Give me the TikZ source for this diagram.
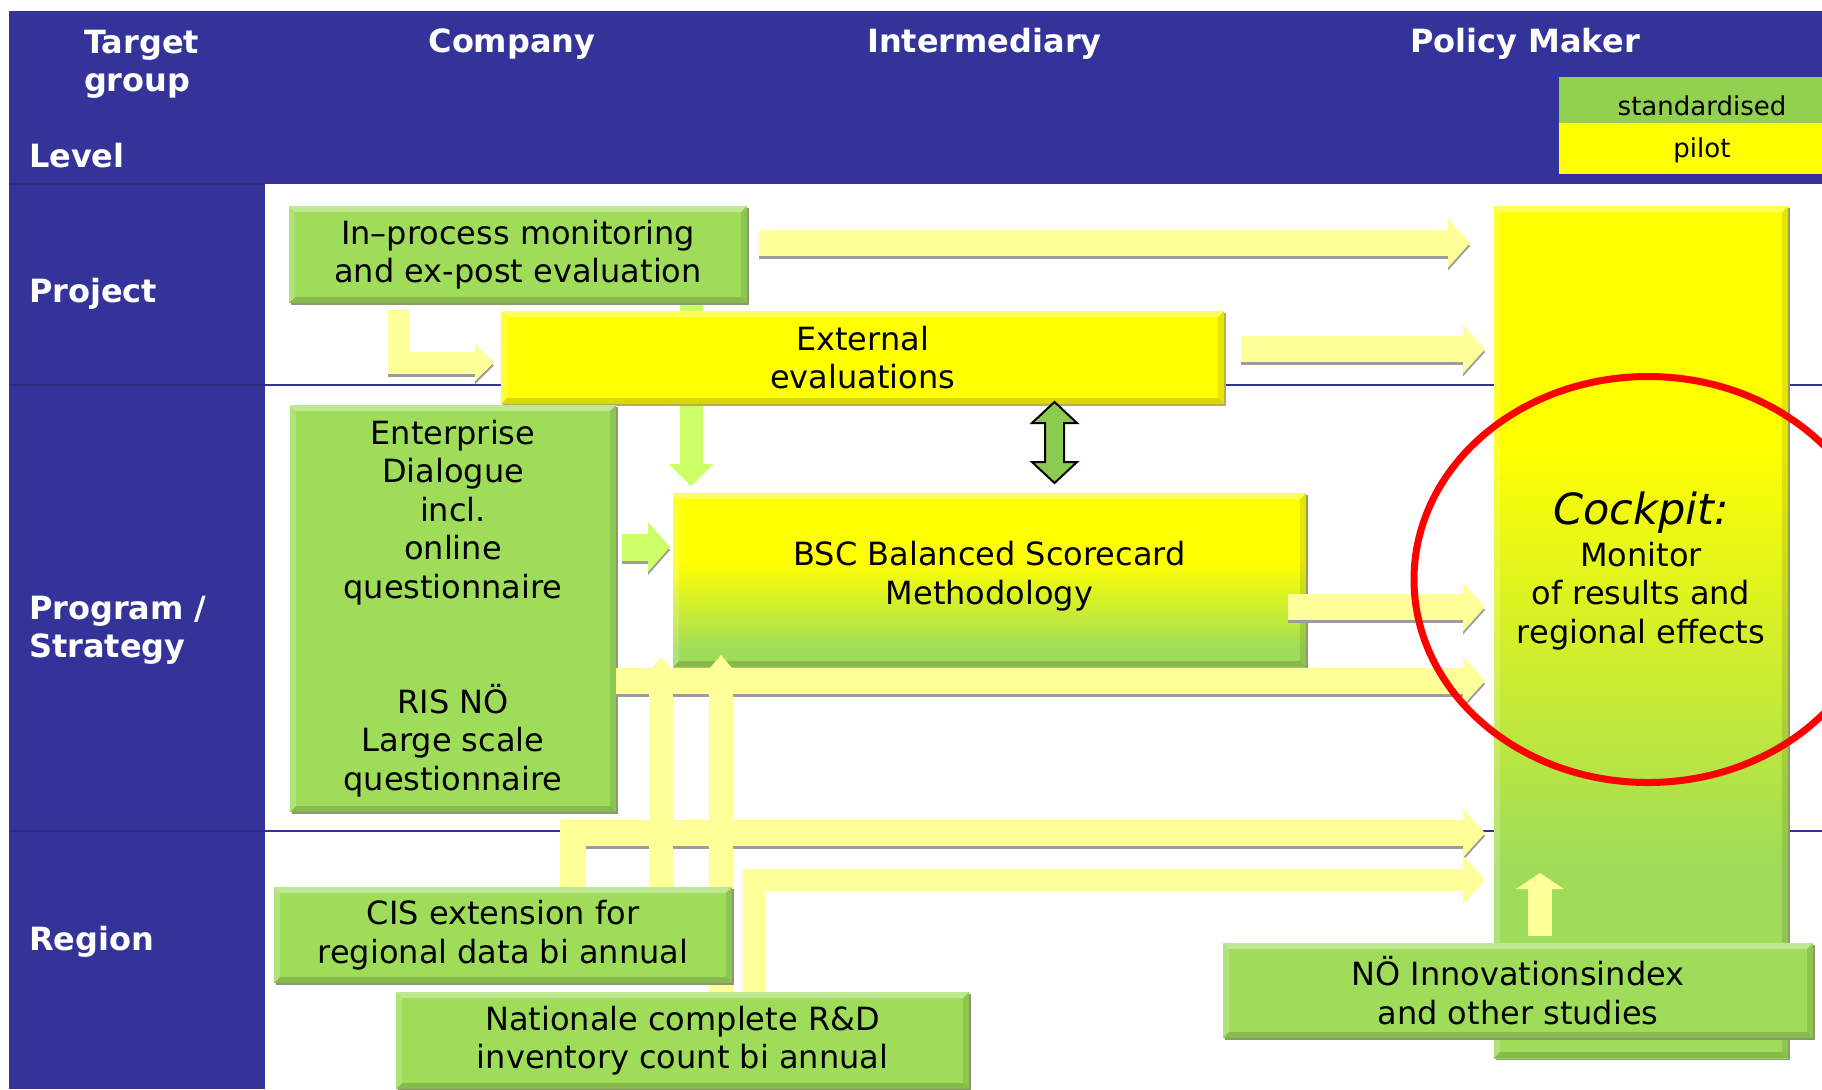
\documentclass[tikz,border=0pt]{standalone}
\usepackage{fontspec}
\setmainfont{DejaVu Sans}
\usetikzlibrary{arrows.meta,shadows,calc}
\definecolor{hblue}{HTML}{333399}
\definecolor{gfill}{HTML}{9EDC5A}
\definecolor{lgreen}{HTML}{92D050}
\definecolor{yfill}{HTML}{FFFF00}
\definecolor{ayellow}{HTML}{FFFF99}
\definecolor{agreen}{HTML}{CCFF66}
\definecolor{dblgreen}{HTML}{8DCB50}
\definecolor{gshadow}{HTML}{8A9A72}
\definecolor{yshadowc}{HTML}{B8B44A}
\definecolor{ashad}{HTML}{9C9C9C}
\pgfdeclareverticalshading{bscsh}{100bp}{color(0bp)=(gfill); color(30bp)=(gfill); color(55bp)=(yfill); color(100bp)=(yfill)}
\pgfdeclareverticalshading{cocksh}{100bp}{color(0bp)=(gfill); color(36bp)=(gfill); color(61bp)=(yfill); color(100bp)=(yfill)}
\newcommand\bxfont{\fontsize{16}{19.2}\selectfont}
\newcommand\hdfont{\fontsize{16}{19.2}\selectfont\bfseries}
\newcommand\lgfont{\fontsize{13}{15.6}\selectfont}
\tikzset{
  bevel/.style={path picture={
    \fill[white,opacity=.35] (path picture bounding box.north west) -- (path picture bounding box.north east) -- ([shift={(-3pt,-3pt)}]path picture bounding box.north east) -- ([shift={(3pt,-3pt)}]path picture bounding box.north west) -- cycle;
    \fill[white,opacity=.2] (path picture bounding box.north west) -- ([shift={(3pt,-3pt)}]path picture bounding box.north west) -- ([shift={(3pt,3pt)}]path picture bounding box.south west) -- (path picture bounding box.south west) -- cycle;
    \fill[black,opacity=.15] (path picture bounding box.south west) -- ([shift={(3pt,3pt)}]path picture bounding box.south west) -- ([shift={(-3pt,3pt)}]path picture bounding box.south east) -- (path picture bounding box.south east) -- cycle;
    \fill[black,opacity=.1] (path picture bounding box.north east) -- ([shift={(-3pt,-3pt)}]path picture bounding box.north east) -- ([shift={(-3pt,3pt)}]path picture bounding box.south east) -- (path picture bounding box.south east) -- cycle;
  }},
  txt/.style={font=\bxfont, align=center, inner sep=0pt, outer sep=0pt},
  gbox/.style={txt, fill=gfill, bevel, drop shadow={opacity=1, fill=gshadow, shadow xshift=1.2pt, shadow yshift=-1.2pt}},
  ybox/.style={txt, fill=yfill, bevel, drop shadow={opacity=1, fill=yshadowc, shadow xshift=1.2pt, shadow yshift=-1.2pt}},
  shbox/.style={txt, shade, bevel, drop shadow={opacity=1, fill=gshadow, shadow xshift=1.2pt, shadow yshift=-1.2pt}},
  hdr/.style={text=white, font=\hdfont, inner sep=0pt, outer sep=0pt},
  lgcell/.style={inner sep=0pt, outer sep=0pt, minimum width=143pt},
  lgtext/.style={font=\lgfont, inner sep=0pt, outer sep=0pt, anchor=base},
  yarr/.style={draw=ayellow, line width=13pt, line join=miter, -{Triangle[width=24.5pt,length=11pt,line width=0pt]}},
  garr/.style={draw=agreen, line width=13pt, line join=miter, -{Triangle[width=24.5pt,length=11pt,line width=0pt]}},
  shad/.style={draw=ashad},
}
\begin{document}
\begin{tikzpicture}[x=0.5pt,y=-0.5pt]
\useasboundingbox (0,0) rectangle (1822,1089);
\fill[white] (0,0) rectangle (1822,1089);
% header band and level column
\fill[hblue] (9,11) rectangle (1822,184);
\fill[hblue] (9,184) rectangle (265,1089);
\draw[hblue!85!black, line width=0.6pt] (9,184) -- (265,184) (9,385) -- (265,385) (9,831) -- (265,831);
\draw[hblue, line width=1.2pt] (265,385) -- (1822,385) (265,831) -- (1822,831);
% header texts
\node[hdr, anchor=north west, align=left] (tg) at (84,30) {Target\\group};
\node[hdr, anchor=base] (hcomp) at (512,52) {Company};
\node[hdr, anchor=base] (hinter) at (984.5,52) {Intermediary};
\node[hdr, anchor=base] (hpol) at (1525,52) {Policy Maker};
\node[hdr, anchor=base west] (hlevel) at (29,167) {Level};
\node[hdr, anchor=base west] (rproj) at (29,302) {Project};
\node[hdr, anchor=base west] (rprog) at (29,619) {Program /};
\node[hdr, anchor=base west] (rstrat) at (29,657) {Strategy};
\node[hdr, anchor=base west] (rreg) at (29,950) {Region};
% legend
\node[lgcell, fill=lgreen, minimum height=23pt] (lstd) at (1702,100) {};
\node[lgcell, fill=yfill, minimum height=25.5pt] (lpil) at (1702,148.5) {};
\node[lgtext] (lstdt) at (1702,115) {standardised};
\node[lgtext] (lpilt) at (1702,157) {pilot};
% cockpit column
\node[shbox, shading=cocksh, minimum width=147pt, minimum height=426pt] (cockpit) at (1641,632) {};
% arrows behind the top boxes
\draw[garr, line width=11.5pt, -{Triangle[width=22.5pt,length=11pt,line width=0pt]}] (691,290) -- (691,486);
\coordinate (a3s) at (399,310);
\coordinate (a3e) at (494,362.5);
\draw[yarr, shad, line width=11pt, -{Triangle[width=18.5pt,length=9.5pt,line width=0pt]}] ([yshift=-1.5pt]a3s) |- ([yshift=-1.5pt]a3e);
\draw[yarr, line width=11pt, -{Triangle[width=18.5pt,length=9.5pt,line width=0pt]}] (a3s) |- (a3e);
% top boxes
\node[gbox, minimum width=229pt, minimum height=48.5pt] (inproc) at (518,254.5) {In–process monitoring\\and ex-post evaluation};
\node[ybox, minimum width=361.5pt, minimum height=46.5pt] (ext) at (862.5,357.5) {External\\evaluations};
\coordinate (a1s) at ($(inproc.east)+(12,-11.5)$);
\coordinate (a1e) at (1470,243);
\draw[yarr, shad] ([yshift=-1.5pt]a1s) -- ([yshift=-1.5pt]a1e);
\draw[yarr] (a1s) -- (a1e);
\coordinate (a2s) at ($(ext.east)+(17,-8.5)$);
\coordinate (a2e) at (1485,349);
\draw[yarr, shad] ([yshift=-1.5pt]a2s) -- ([yshift=-1.5pt]a2e);
\draw[yarr] (a2s) -- (a2e);
% double arrow
\coordinate (dbl) at (1054.5,442.5);
\draw[black, line width=1pt, fill=dblgreen, line join=miter] (dbl) ++(0,-40.5) -- ++(22.5,21) -- ++(-13,0) -- ++(0,39) -- ++(13,0) -- ++(-22.5,21) -- ++(-22.5,-21) -- ++(13,0) -- ++(0,-39) -- ++(-13,0) -- cycle;
% middle boxes
\node[shbox, shading=bscsh, minimum width=316.5pt, minimum height=87pt] (bsc) at (989.5,580) {};
\node[txt] (bsctxt) at (989.5,576) {BSC Balanced Scorecard\\Methodology};
\node[gbox, minimum width=163pt, minimum height=203.5pt] (ent) at (453,608.5) {Enterprise\\Dialogue\\incl.\\online\\questionnaire\\[38.4pt]RIS NÖ\\Large scale\\questionnaire};
\coordinate (a6s) at ($(ent.east)+(6,-61.5)$);
\coordinate (a6e) at ($(bsc.west)+(-3,-33)$);
\draw[garr, shad, line width=13.5pt, -{Triangle[width=25pt,length=11pt,line width=0pt]}] ([yshift=-1.5pt]a6s) -- ([yshift=-1.5pt]a6e);
\draw[garr, line width=13.5pt, -{Triangle[width=25pt,length=11pt,line width=0pt]}] (a6s) -- (a6e);
\coordinate (a7s) at ($(bsc.east)+(-18,27)$);
\coordinate (a7e) at (1485,607);
\draw[yarr, shad] ([yshift=-1.5pt]a7s) -- ([yshift=-1.5pt]a7e);
\draw[yarr] (a7s) -- (a7e);
\coordinate (a8s) at ($(ent.east)+(0,72.5)$);
\coordinate (a8e) at (1485,681);
\draw[yarr, shad] ([yshift=-1.5pt]a8s) -- ([yshift=-1.5pt]a8e);
\draw[yarr] (a8s) -- (a8e);
% region arrows
\coordinate (a10s) at (573,892);
\coordinate (a10e) at (1485,833);
\draw[yarr, shad] ([yshift=-1.5pt]a10s) |- ([yshift=-1.5pt]a10e);
\draw[yarr] (a10s) |- (a10e);
\coordinate (a11s) at (754,998);
\coordinate (a11e) at (1485,880);
\draw[yarr, line width=11pt] (a11s) |- (a11e);
\coordinate (a9as) at (661,892);
\coordinate (a9ae) at ($(bsc.south west)+(-12,-10)$);
\coordinate (a9bs) at (721,998);
\coordinate (a9be) at ($(bsc.south west)+(48,-12)$);
\draw[yarr, line width=12pt, -{Triangle[width=22pt,length=13pt,line width=0pt]}] (a9as) -- (a9as |- a9ae);
\draw[yarr, line width=12pt, -{Triangle[width=22pt,length=13pt,line width=0pt]}] (a9bs) -- (a9bs |- a9be);
% region boxes
\node[gbox, minimum width=229pt, minimum height=48pt] (cis) at (503,935) {CIS extension for\\regional data bi annual};
\node[gbox, minimum width=286.5pt, minimum height=48.5pt] (nat) at (682.5,1040.5) {Nationale complete R\&D\\inventory count bi annual};
\node[gbox, minimum width=295pt, minimum height=47.5pt] (noe) at (1518,990.5) {NÖ Innovationsindex\\and other studies};
\coordinate (a12s) at (1540,936);
\coordinate (a12e) at (1540,873);
\draw[yarr, line width=12pt, -{Triangle[width=24pt,length=8pt,line width=0pt]}] (a12s) -- (a12e);
% cockpit texts
\node[txt, font=\fontsize{21.5}{25}\selectfont\itshape] (cktitle) at (1641,513) {Cockpit:};
\node[txt] (cktext) at (1641,596) {Monitor\\of results and\\regional effects};
% red ellipse
\draw[red, line width=3.5pt] (1648,579.5) ellipse [x radius=117pt, y radius=101.5pt];
\end{tikzpicture}
\end{document}
